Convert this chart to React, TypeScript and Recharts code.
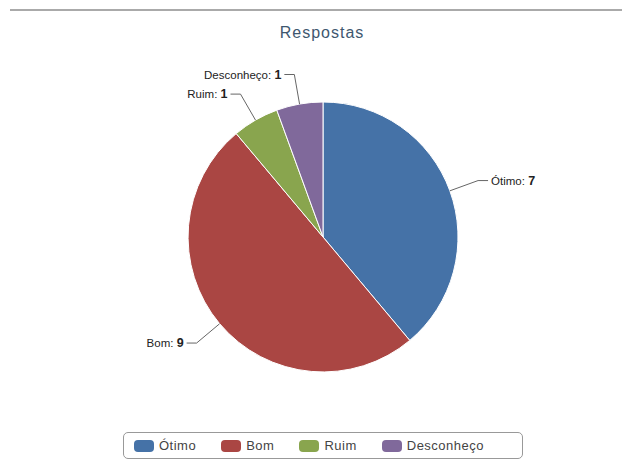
import React from 'react';
import { PieChart, Pie, Cell } from 'recharts';

const categories = ['Ótimo', 'Bom', 'Ruim', 'Desconheço'];
const answers = [7, 9, 1, 1];
const colors = ['#4572A7', '#AA4643', '#89A54E', '#80699B'];

const data = categories.map((name, i) => ({ name, value: answers[i] }));

const RADIAN = Math.PI / 180;
const FONT = '"Liberation Sans", Arial, sans-serif';

const renderLabel = (props: any) => {
  const { cx, cy, midAngle, outerRadius, name, value } = props;
  const cos = Math.cos(-midAngle * RADIAN);
  const sin = Math.sin(-midAngle * RADIAN);
  const right = cos >= 0;
  const x0 = cx + outerRadius * cos;
  const y0 = cy + outerRadius * sin;
  const x1 = cx + (outerRadius + 30) * cos;
  const y1 = cy + (outerRadius + 30) * sin;
  const x2 = x1 + (right ? 10 : -10);
  return (
    <g>
      <path
        d={`M${x0},${y0}L${x1},${y1}L${x2},${y1}`}
        stroke="#666"
        strokeWidth={1}
        fill="none"
      />
      <text
        x={x2 + (right ? 3 : -3)}
        y={y1}
        textAnchor={right ? 'start' : 'end'}
        dominantBaseline="central"
        fontFamily={FONT}
        fontSize={11.5}
        fill="#222"
      >
        {name}:{' '}
        <tspan fontWeight="bold" fontSize={12.5}>{value}</tspan>
      </text>
    </g>
  );
};

function ChartLegend() {
  return (
    <div
      style={{
        position: 'absolute',
        left: 123,
        top: 432,
        width: 400,
        height: 27,
        display: 'flex',
        alignItems: 'center',
        gap: 25,
        paddingLeft: 10,
        border: '1px solid #999',
        borderRadius: 5,
        fontFamily: FONT,
        fontSize: 13,
        letterSpacing: 0.5,
        color: '#444',
        boxSizing: 'border-box',
      }}
    >
      {categories.map((name, i) => (
        <span key={name} style={{ display: 'flex', alignItems: 'center' }}>
          <span
            style={{
              display: 'inline-block',
              width: 20,
              height: 12,
              borderRadius: 4,
              background: colors[i],
              marginRight: 5,
            }}
          />
          {name}
        </span>
      ))}
    </div>
  );
}

export default function App() {
  return (
    <div
      style={{
        position: 'absolute',
        left: 0,
        top: 0,
        width: 622,
        height: 473,
        background: '#fff',
      }}
    >
      <div
        style={{
          position: 'absolute',
          left: 10,
          right: 0,
          top: 9,
          borderTop: '2px solid #aaa',
        }}
      />
      <div
        style={{
          position: 'absolute',
          left: 0,
          width: 644,
          top: 24,
          textAlign: 'center',
          fontFamily: FONT,
          fontSize: 16,
          letterSpacing: 1,
          color: '#3E576F',
        }}
      >
        Respostas
      </div>
      <PieChart
        width={622}
        height={473}
        margin={{ top: 0, right: 0, bottom: 0, left: 0 }}
        style={{ position: 'absolute', left: 0, top: 0 }}
      >
        <Pie
          data={data}
          dataKey="value"
          nameKey="name"
          cx={323}
          cy={237}
          outerRadius={135}
          startAngle={90}
          endAngle={-270}
          stroke="#fff"
          strokeWidth={1}
          label={renderLabel}
          labelLine={false}
          isAnimationActive={false}
        >
          {data.map((d, i) => (
            <Cell key={d.name} fill={colors[i]} />
          ))}
        </Pie>
      </PieChart>
      <ChartLegend />
    </div>
  );
}
